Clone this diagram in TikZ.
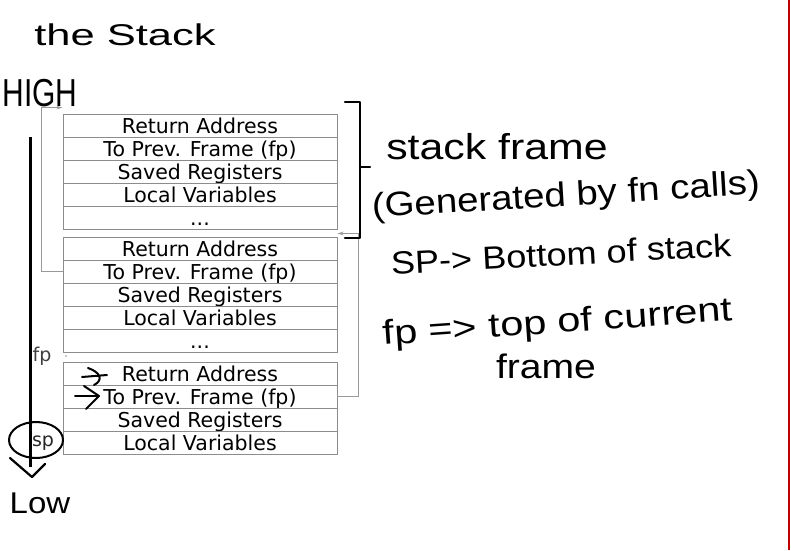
\documentclass[tikz,border=0pt]{standalone}
\usepackage{fontspec}
\setmainfont{DejaVu Sans}
\newfontfamily\handfont{Liberation Sans}
\usetikzlibrary{arrows.meta,calc}
\begin{document}
\begin{tikzpicture}[x=1pt,y=-1pt,
  row/.style={draw=black!45,line width=0.9pt,minimum width=274pt,minimum height=23pt,
    inner sep=0pt,text height=19pt,text depth=4pt,font=\fontsize{20.5}{20.5}\selectfont},
  conn/.style={draw=black!40,line width=1pt},
  hand/.style={inner sep=0pt,text=black},
  ink/.style={line width=2.2pt,line cap=round,line join=round}]
\useasboundingbox (0,0) rectangle (791,550);
\fill[white] (0,0) rectangle (791,550);
% red margin line
\draw[red!75!black,line width=1.5pt] (789,0) -- (789,550);

% frame 1
\node[row] (f1a) at (200,125.5) {Return Address};
\node[row] (f1b) at (200,148.5) {To Prev. Frame (fp)};
\node[row] (f1c) at (200,171.5) {Saved Registers};
\node[row] (f1d) at (200,194.5) {Local Variables};
\node[row] (f1e) at (200,217.5) {...};
% frame 2
\node[row] (f2a) at (200,248.5) {Return Address};
\node[row] (f2b) at (200,271.5) {To Prev. Frame (fp)};
\node[row] (f2c) at (200,294.5) {Saved Registers};
\node[row] (f2d) at (200,317.5) {Local Variables};
\node[row] (f2e) at (200,340.5) {...};
% frame 3
\node[row] (f3a) at (200,373.5) {Return Address};
\node[row] (f3b) at (200,396.5) {To Prev. Frame (fp)};
\node[row] (f3c) at (200,419.5) {Saved Registers};
\node[row] (f3d) at (200,442.5) {Local Variables};

% frame pointer connectors
\coordinate (c1) at ($(f1a.north west)+(0,-6)$);
\coordinate (c2) at ($(f1e.south east)+(0,4)$);
\draw[conn,-{Stealth[length=6pt,width=3.5pt]}] (f2b.west) -- ++(-21,0) |- (c1);
\draw[conn,-{Stealth[length=6pt,width=3.5pt]}] (f3b.east) -- ++(21,0) |- (c2);

% stack direction axis
\coordinate (ax1) at (30,137);
\coordinate (ax2) at (30,467);
\draw[line width=3pt] (ax1) -- (ax2);
\draw[ink] (10,458) -- (32,477) -- (45,464);

% fp / sp labels
\node[font=\fontsize{19}{19}\selectfont,text=black!75,inner sep=0pt,anchor=base] (fp) at (42,361) {fp};
\fill[black!40] (66,356) circle (0.9pt);
\node[font=\fontsize{19}{19}\selectfont,text=black!85,inner sep=0pt,anchor=base] (sp) at (43,446) {sp};
\draw[ink,line width=2pt] (36,440) ellipse (27pt and 18pt);

% hand marks in frame 3
\draw[ink,line width=2pt] (82,377) -- (107,375);
\draw[ink,line width=2pt] (88,368) .. controls (100,372) and (104,380) .. (94,385);
\draw[ink,line width=2pt] (75,396) -- (98,396);
\draw[ink,line width=2pt] (84,386) -- (99,396) -- (86,409);

% bracket
\draw[ink] (345,102) -- (360,102) -- (360,238) -- (345,238);
\draw[ink] (360,167) -- (370,167);

% handwritten texts
\node[hand,font=\handfont\fontsize{30}{30}\selectfont,xscale=1.45] (title) at (125,35) {the Stack};
\node[hand,font=\handfont\fontsize{30}{30}\selectfont,yscale=1.3] (high) at (40,93) {HIGH};
\node[hand,font=\handfont\fontsize{30}{30}\selectfont,xscale=1.1] (low) at (40,503) {Low};
\node[hand,font=\handfont\fontsize{36}{36}\selectfont,xscale=1.19] (sf) at (497,147) {stack frame};
\node[hand,font=\handfont\fontsize{34}{34}\selectfont,rotate=3.5,xscale=1.13] (gen) at (566,197) {(Generated by fn calls)};
\node[hand,font=\handfont\fontsize{32}{32}\selectfont,rotate=3,xscale=1.13] (spb) at (561,254) {SP-> Bottom of stack};
\node[hand,font=\handfont\fontsize{34}{34}\selectfont,rotate=4,xscale=1.22] (fpt) at (558,324) {fp => top of current};
\node[hand,font=\handfont\fontsize{34}{34}\selectfont,xscale=1.15] (frm) at (546,366) {frame};
\end{tikzpicture}
\end{document}
